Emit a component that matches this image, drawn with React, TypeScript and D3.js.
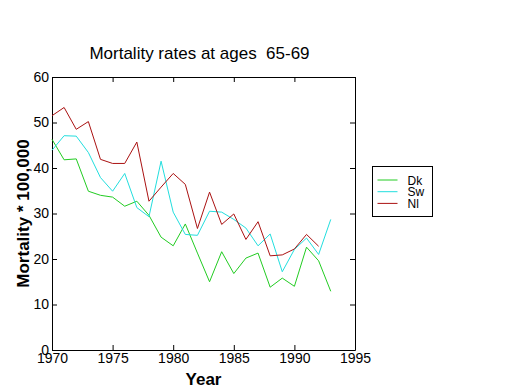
import React, { useEffect, useRef } from 'react';
import * as d3 from 'd3';

const years = d3.range(1970, 1994);
const dk = [46.3, 41.8, 42.0, 34.9, 34.0, 33.6, 31.6, 32.7, 29.6, 24.8, 22.9, 27.7, 21.3, 15.0, 21.6, 16.8, 20.2, 21.3, 13.8, 15.8, 14.0, 22.6, 19.6, 12.9];
const sw = [43.9, 47.1, 47.0, 43.4, 37.9, 34.9, 38.8, 31.3, 29.3, 41.5, 30.3, 25.4, 25.2, 30.5, 30.3, 28.7, 26.8, 22.9, 25.5, 17.2, 22.1, 24.6, 21.0, 28.7];
const nl = [51.5, 53.3, 48.5, 50.2, 41.9, 41.0, 41.0, 45.7, 32.7, 35.8, 38.8, 36.4, 26.7, 34.7, 27.6, 29.9, 24.3, 28.2, 20.7, 20.9, 22.2, 25.4, 22.8];
const xTicks = [1970, 1975, 1980, 1985, 1990, 1995];
const yTicks = [0, 10, 20, 30, 40, 50, 60];

const series = [
  { name: 'Dk', values: dk, color: '#22cc22' },
  { name: 'Sw', values: sw, color: '#22dede' },
  { name: 'Nl', values: nl, color: '#aa1111' },
];

function App() {
  const ref = useRef<SVGSVGElement>(null);

  useEffect(() => {
    const svg = d3.select(ref.current);
    svg.selectAll('*').remove();

    const width = 520;
    const height = 390;
    const margin = { top: 77, right: 165, bottom: 40, left: 52 };
    const font = 'Liberation Sans, Arial, sans-serif';

    const x = d3.scaleLinear().domain([1970, 1995]).range([margin.left, width - margin.right]);
    const y = d3.scaleLinear().domain([0, 60]).range([height - margin.bottom, margin.top]);

    svg.append('rect').attr('width', width).attr('height', height).attr('fill', '#fff');

    // box axes with ticks pointing inward, MATLAB style
    const tick = 5;
    const axisStyle = (g) => {
      g.select('.domain').attr('stroke', '#000');
      g.selectAll('.tick line').attr('stroke', '#000');
      g.selectAll('text').attr('font-family', font).attr('font-size', 14).attr('fill', '#000');
    };

    svg.append('g')
      .attr('transform', `translate(0,${y(0)})`)
      .call(d3.axisBottom(x).tickValues(xTicks).tickFormat(d3.format('d')).tickSizeInner(-tick).tickSizeOuter(0).tickPadding(3))
      .call(axisStyle);
    svg.append('g')
      .attr('transform', `translate(0,${y(60)})`)
      .call(d3.axisTop(x).tickValues(xTicks).tickFormat(() => '').tickSizeInner(-tick).tickSizeOuter(0))
      .call(axisStyle);
    svg.append('g')
      .attr('transform', `translate(${x(1970)},0)`)
      .call(d3.axisLeft(y).tickValues(yTicks).tickSizeInner(-tick).tickSizeOuter(0).tickPadding(3))
      .call(axisStyle);
    svg.append('g')
      .attr('transform', `translate(${x(1995)},0)`)
      .call(d3.axisRight(y).tickValues(yTicks).tickFormat(() => '').tickSizeInner(-tick).tickSizeOuter(0))
      .call(axisStyle);

    // lines
    const line = d3.line<number>().x((d, i) => x(years[i])).y((d) => y(d));
    series.forEach((s) => {
      svg.append('path')
        .datum(s.values)
        .attr('fill', 'none')
        .attr('stroke', s.color)
        .attr('stroke-width', 1)
        .attr('d', line);
    });

    // title and labels
    svg.append('text')
      .attr('x', (x(1970) + x(1995)) / 2 - 4)
      .attr('y', 59)
      .attr('text-anchor', 'middle')
      .attr('font-family', font)
      .attr('font-size', 17)
      .attr('xml:space', 'preserve')
      .text('Mortality rates at ages  65-69');

    svg.append('text')
      .attr('x', (x(1970) + x(1995)) / 2)
      .attr('y', 385)
      .attr('text-anchor', 'middle')
      .attr('font-family', font)
      .attr('font-size', 17)
      .attr('font-weight', 'bold')
      .text('Year');

    svg.append('text')
      .attr('transform', `translate(29,${(y(0) + y(60)) / 2}) rotate(-90)`)
      .attr('text-anchor', 'middle')
      .attr('font-family', font)
      .attr('font-size', 17)
      .attr('font-weight', 'bold')
      .text('Mortality * 100,000');

    // legend
    const legend = svg.append('g').attr('transform', 'translate(372.5,166.5)');
    legend.append('rect')
      .attr('width', 60)
      .attr('height', 50)
      .attr('fill', '#fff')
      .attr('stroke', '#000');
    series.forEach((s, i) => {
      const ly = 13.5 + i * 11.7;
      legend.append('line')
        .attr('x1', 5).attr('x2', 25)
        .attr('y1', ly).attr('y2', ly)
        .attr('stroke', s.color);
      legend.append('text')
        .attr('x', 35)
        .attr('y', ly + 4.5)
        .attr('font-family', font)
        .attr('font-size', 12)
        .text(s.name);
    });
  }, []);

  return <svg ref={ref} width={520} height={390} style={{ position: 'absolute', left: 0, top: 0 }}></svg>;
}

export default App;
